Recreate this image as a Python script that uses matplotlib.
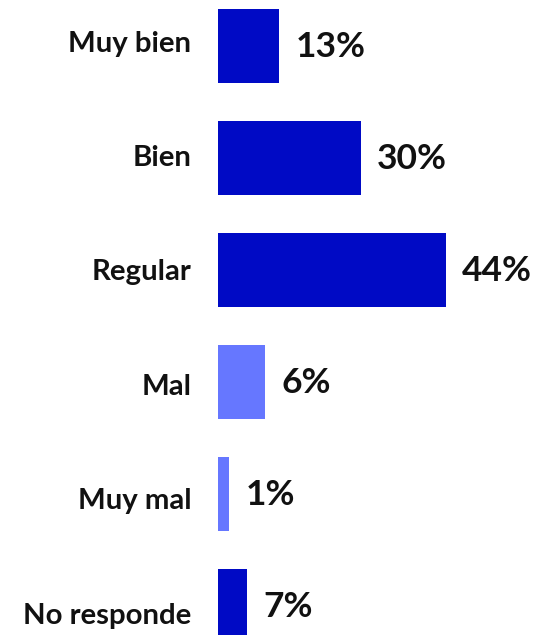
import matplotlib
matplotlib.use("Agg")
import matplotlib.pyplot as plt

categories = ["Muy bien", "Bien", "Regular", "Mal", "Muy mal", "No responde"]
# bar lengths as drawn in the picture (percent units)
bar_values = [11.8, 27.55, 44.0, 9.1, 2.13, 5.6]
pct_labels = ["13%", "30%", "44%", "6%", "1%", "7%"]
colors = ["#000AC5", "#000AC5", "#000AC5", "#6677FF", "#6677FF", "#000AC5"]

W, H = 537, 635
fig = plt.figure(figsize=(W / 100, H / 100), dpi=100)
fig.patch.set_facecolor("white")

x0 = 218.3
px_per_unit = 5.168
row_px = 112.0
first_center = 45.85

ax = fig.add_axes([x0 / W, 0, (W - x0) / W, 1])
ax.set_xlim(0, (W - x0) / px_per_unit)
ax.set_ylim((H - first_center) / row_px, -first_center / row_px)
ax.axis("off")

ys = list(range(len(categories)))
ax.barh(ys, bar_values, height=73.7 / row_px, color=colors, linewidth=0)

fam = ["Lato", "DejaVu Sans"]
for i, (cat, v, lab) in enumerate(zip(categories, bar_values, pct_labels)):
    ax.annotate(cat, xy=(0, i), xytext=(-27, -(5.7 + 2.4 * i)),
                textcoords="offset pixels", ha="right", va="baseline",
                fontsize=21.2, fontweight="bold", family=fam, color="#111111",
                annotation_clip=False)
    ax.annotate(lab, xy=(v, i), xytext=(16, -11.5),
                textcoords="offset pixels", ha="left", va="baseline",
                fontsize=25.5, fontweight="bold", family=fam, color="#111111",
                annotation_clip=False)

fig.savefig("out.png", dpi=100, facecolor="white")
